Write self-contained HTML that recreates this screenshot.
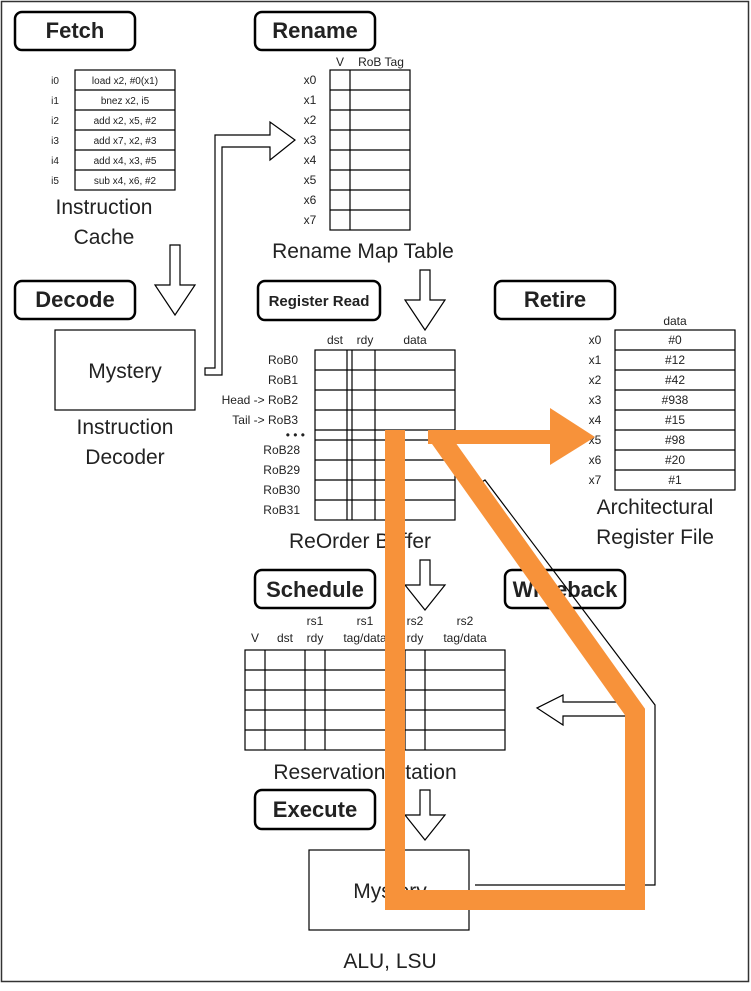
<!DOCTYPE html>
<html><head><meta charset="utf-8"><style>
body{margin:0;background:#fff}
svg{display:block}
text{font-family:"Liberation Sans",sans-serif;fill:#222}
</style></head><body>
<svg width="751" height="991" viewBox="0 0 751 991" xmlns="http://www.w3.org/2000/svg">
<rect x="1.5" y="1.5" width="747" height="980" fill="#fff" stroke="#333" stroke-width="1.5"/>
<g fill="none" stroke="#000" stroke-width="2.5">
<rect x="15" y="12" width="120" height="38" rx="7"/>
<rect x="255" y="12" width="120" height="38" rx="7"/>
<rect x="15" y="281" width="120" height="38" rx="7"/>
<rect x="258" y="281" width="122" height="39" rx="7"/>
<rect x="495" y="281" width="120" height="38" rx="7"/>
<rect x="255" y="570" width="120" height="38" rx="7"/>
<rect x="505" y="570" width="120" height="38" rx="7"/>
<rect x="255" y="790" width="120" height="39" rx="7"/>
</g>
<g font-size="22" font-weight="bold" text-anchor="middle">
<text x="75" y="38">Fetch</text><text x="315" y="38">Rename</text>
<text x="75" y="307">Decode</text><text x="319" y="306" font-size="15">Register Read</text>
<text x="555" y="307">Retire</text><text x="315" y="597">Schedule</text>
<text x="565" y="597">Writeback</text><text x="315" y="817">Execute</text>
</g>
<g fill="none" stroke="#000" stroke-width="1.2">
<!-- icache -->
<rect x="75" y="70" width="100" height="120"/>
<path d="M75 90H175M75 110H175M75 130H175M75 150H175M75 170H175"/>
<!-- rename -->
<rect x="330" y="70" width="80" height="160"/>
<path d="M350 70V230M330 90H410M330 110H410M330 130H410M330 150H410M330 170H410M330 190H410M330 210H410"/>
<!-- decoder -->
<rect x="55" y="330" width="140" height="80"/>
<!-- ROB -->
<rect x="315" y="350" width="140" height="170"/>
<path d="M347 350V520M352 350V520M375 350V520M315 370H455M315 390H455M315 410H455M315 430H455M315 440H455M315 460H455M315 480H455M315 500H455"/>
<!-- ARF -->
<rect x="615" y="330" width="120" height="160"/>
<path d="M615 350H735M615 370H735M615 390H735M615 410H735M615 430H735M615 450H735M615 470H735"/>
<!-- RS -->
<rect x="245" y="650" width="260" height="100"/>
<path d="M265 650V750M305 650V750M325 650V750M405 650V750M425 650V750M245 670H505M245 690H505M245 710H505M245 730H505"/>
<!-- ALU -->
<rect x="309" y="850" width="160" height="80"/>
<!-- arrows -->
<path d="M170 245H180V285H195L175 315L155 285H170Z"/>
<path d="M420 270H430V300H445L425 330L405 300H420Z"/>
<path d="M420 560H430V585H445L425 610L405 585H420Z"/>
<path d="M420 790H430V815H445L425 840L405 815H420Z"/>
<path d="M205 375H222V147H270V160L295 140L270 122V135H215V368H205Z"/>
<path d="M475 885H655V705L485 480L470 490L640 712V885H475" />
<path d="M630 702H563V695L537 708L563 725V716H630"/>
</g>
<g font-size="10" text-anchor="middle">
<text x="55" y="84">i0</text><text x="55" y="104">i1</text><text x="55" y="124">i2</text><text x="55" y="144">i3</text><text x="55" y="164">i4</text><text x="55" y="184">i5</text>
<text x="125" y="84">load x2, #0(x1)</text><text x="125" y="104">bnez x2, i5</text><text x="125" y="124">add x2, x5, #2</text><text x="125" y="144">add x7, x2, #3</text><text x="125" y="164">add x4, x3, #5</text><text x="125" y="184">sub x4, x6, #2</text>
</g>
<g font-size="12" text-anchor="middle">
<text x="340" y="66">V</text><text x="381" y="66">RoB Tag</text>
<text x="310" y="84">x0</text><text x="310" y="104">x1</text><text x="310" y="124">x2</text><text x="310" y="144">x3</text><text x="310" y="164">x4</text><text x="310" y="184">x5</text><text x="310" y="204">x6</text><text x="310" y="224">x7</text>
<text x="335" y="344">dst</text><text x="365" y="344">rdy</text><text x="415" y="344">data</text>
<text x="675" y="325">data</text>
<text x="595" y="344">x0</text><text x="595" y="364">x1</text><text x="595" y="384">x2</text><text x="595" y="404">x3</text><text x="595" y="424">x4</text><text x="595" y="444">x5</text><text x="595" y="464">x6</text><text x="595" y="484">x7</text>
<text x="675" y="344">#0</text><text x="675" y="364">#12</text><text x="675" y="384">#42</text><text x="675" y="404">#938</text><text x="675" y="424">#15</text><text x="675" y="444">#98</text><text x="675" y="464">#20</text><text x="675" y="484">#1</text>
<text x="255" y="642">V</text><text x="285" y="642">dst</text><text x="315" y="625">rs1</text><text x="315" y="642">rdy</text><text x="365" y="625">rs1</text><text x="365" y="642">tag/data</text><text x="415" y="625">rs2</text><text x="415" y="642">rdy</text><text x="465" y="625">rs2</text><text x="465" y="642">tag/data</text>
</g>
<g font-size="12" text-anchor="end">
<text x="298" y="364">RoB0</text><text x="298" y="384">RoB1</text><text x="298" y="404">Head -&gt; RoB2</text><text x="298" y="424">Tail -&gt; RoB3</text>
<text x="300" y="454">RoB28</text><text x="300" y="474">RoB29</text><text x="300" y="494">RoB30</text><text x="300" y="514">RoB31</text>
<text x="305" y="439">•  •  •</text>
</g>
<g font-size="21" text-anchor="middle">
<text x="104" y="214">Instruction</text><text x="104" y="244">Cache</text>
<text x="363" y="258">Rename Map Table</text>
<text x="125" y="378">Mystery</text>
<text x="125" y="434">Instruction</text><text x="125" y="464">Decoder</text>
<text x="360" y="548">ReOrder Buffer</text>
<text x="655" y="514">Architectural</text><text x="655" y="544">Register File</text>
<text x="365" y="779">Reservation Station</text>
<text x="390" y="898">Mystery</text>
<text x="390" y="968">ALU, LSU</text>
</g>
<g fill="none" stroke="#F7923A" stroke-linejoin="miter">
<path d="M395 430V900H635V712L440 438" stroke-width="20"/>
<path d="M428 437H552" stroke-width="14"/>
</g>
<polygon points="550,408 595,437 550,465" fill="#F7923A"/>
</svg>
</body></html>
